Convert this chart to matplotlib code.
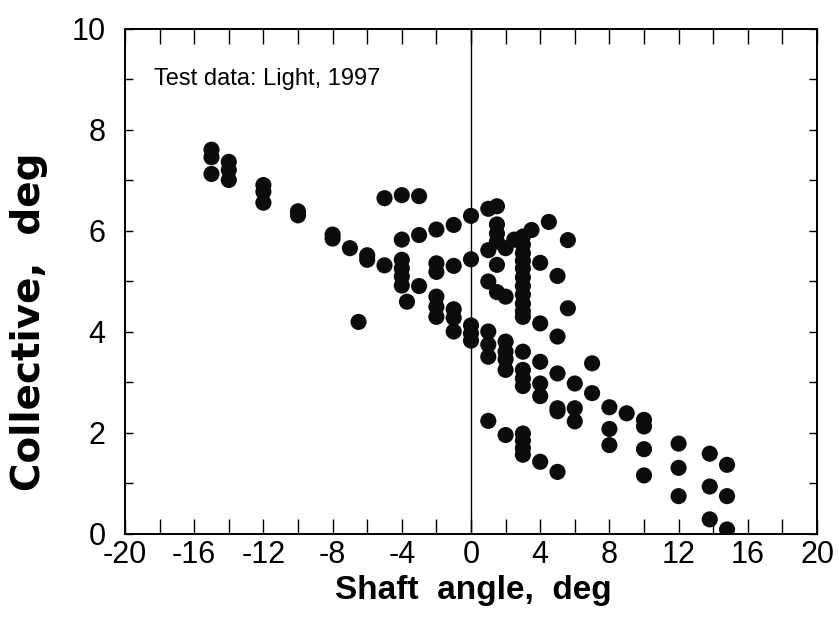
import matplotlib
matplotlib.use("Agg")
import matplotlib.pyplot as plt
import numpy as np

plt.rcParams['font.family'] = ['Liberation Sans', 'DejaVu Sans']

# Shaft angle (deg) -> collective values (deg)
shaft_groups = [-15, -14, -12, -10, -8, -7, -6, -6.5, -5, -4, -3.7, -3, -2, -1,
                0, 1, 1.5, 2, 2.5, 3, 3.5, 4, 4.5, 5, 5.6, 6, 7, 8, 9, 10,
                12, 13.8, 14.8]
collective_groups = [
    [7.6, 7.45, 7.12],
    [7.36, 7.2, 7.0],
    [6.9, 6.77, 6.55],
    [6.38, 6.3],
    [5.92, 5.84],
    [5.65],
    [5.51, 5.42],
    [4.19],
    [5.31, 6.64],
    [6.7, 5.82, 5.42, 5.25, 5.09, 4.91],
    [4.59],
    [6.68, 5.91, 4.9],
    [6.02, 5.35, 5.18, 4.69, 4.49, 4.29],
    [6.11, 5.3, 4.44, 4.27, 4.0],
    [6.29, 5.43, 4.12, 3.96, 3.82],
    [6.43, 5.61, 4.99, 4.0, 3.74, 3.5, 2.23],
    [6.48, 6.12, 5.94, 5.78, 5.32, 4.78],
    [5.65, 4.69, 3.8, 3.6, 3.45, 3.24, 1.95],
    [5.82],
    [5.88, 5.72, 5.55, 5.4, 5.25, 5.07, 4.9, 4.73, 4.55, 4.4, 4.29,
     3.6, 3.24, 3.07, 2.92, 1.98, 1.84, 1.69, 1.56],
    [6.01],
    [5.36, 4.16, 3.4, 2.97, 2.72, 1.42],
    [6.17],
    [5.1, 3.9, 3.17, 2.48, 2.42, 1.22],
    [5.81, 4.46],
    [2.97, 2.48, 2.22],
    [3.37, 2.78],
    [2.5, 2.07, 1.75],
    [2.38],
    [2.25, 2.12, 1.67, 1.15],
    [1.78, 1.3, 0.74],
    [1.58, 0.93, 0.28],
    [1.36, 0.74, 0.08],
]

x_ticks = list(range(-20, 21, 2))
x_tick_labels = [str(v) if v % 4 == 0 else "" for v in x_ticks]
y_ticks = list(range(0, 11))
y_tick_labels = [str(v) if v % 2 == 0 else "" for v in y_ticks]

shaft = []
collective = []
for xa, ys in zip(shaft_groups, collective_groups):
    for yv in ys:
        shaft.append(xa)
        collective.append(yv)

fig = plt.figure(figsize=(8.39, 6.27), dpi=100)
ax = fig.add_axes([125/839, 1-533.5/627, (817-125)/839, (533.5-28.5)/627])

ax.axvline(0, color='black', lw=1.0, zorder=1)
ax.scatter(shaft, collective, s=135, color='#0c0c0c', edgecolors='none', zorder=3)

ax.set_xlim(-20, 20)
ax.set_ylim(0, 10)
ax.set_xticks(x_ticks)
ax.set_xticklabels(x_tick_labels)
ax.set_yticks(y_ticks)
ax.set_yticklabels(y_tick_labels)

ax.tick_params(axis='x', direction='in', length=11, width=1.0, top=True,
               labelsize=22, pad=5)
ax.tick_params(axis='y', direction='in', length=6, width=1.0, right=True,
               labelsize=22, pad=14)
for sp in ax.spines.values():
    sp.set_linewidth(1.4)

ax.set_xlabel("Shaft  angle,  deg", fontsize=24, fontweight='bold', va='baseline')
ax.xaxis.set_label_coords(0.503, -0.13)
ax.set_ylabel("Collective,  deg", fontsize=28, fontweight='bold', va='center',
              ha='center', family=['DejaVu Sans'])
ax.yaxis.set_label_coords(-0.139, 0.42)

ax.text(0.042, 0.888, "Test data: Light, 1997", transform=ax.transAxes,
        fontsize=17, ha='left', va='baseline')

fig.savefig("out.png", dpi=100)
